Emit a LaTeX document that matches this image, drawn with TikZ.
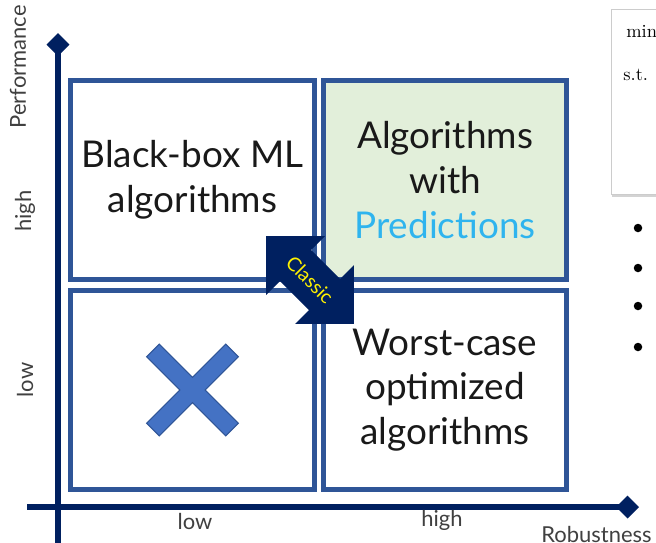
\documentclass[tikz,border=0pt]{standalone}
\usepackage{fontspec}
\setsansfont{Lato}
\usetikzlibrary{arrows.meta,positioning,shadows}
\definecolor{navy}{HTML}{002060}
\definecolor{frame}{HTML}{2F5597}
\definecolor{xblue}{HTML}{4472C4}
\definecolor{lgreen}{HTML}{E2EFDA}
\definecolor{sky}{HTML}{2FB4EE}
\definecolor{txt}{HTML}{404040}

\begin{document}
\begin{tikzpicture}[x=0.02cm, y=-0.02cm, font=\sffamily,
  quad/.style={draw=frame, line width=0.1cm, minimum width=4.88cm, minimum height=4.0cm,
    align=center, text=black!90, font=\sffamily\fontsize{21}{25.5}\selectfont},
  axis/.style={navy, line width=0.12cm, -{Diamond[length=0.46cm,width=0.46cm]}},
  lbl/.style={text=txt, inner sep=0pt, font=\sffamily\fontsize{12.5}{14}\selectfont}]
\useasboundingbox (0,0) rectangle (656,542);
\clip (0,0) rectangle (656,542);

% quadrants
\node[quad]              (tl) at (192.5,180) {Black-box ML\\algorithms};
\node[quad, fill=lgreen] (tr) at (445,180)   {Algorithms\\with\\\textcolor{sky}{Predictions}};
\node[quad]              (bl) at (192.5,390) {};
\node[quad]              (br) at (445,390)   {Worst-case\\optimized\\algorithms};

% cross in the empty quadrant
\begin{scope}[shift={(bl.center)}, rotate=45]
\draw[fill=xblue, draw=frame, line width=0.6pt]
  (-56,-9)--(-9,-9)--(-9,-56)--(9,-56)--(9,-9)--(56,-9)--(56,9)--(9,9)
  --(9,56)--(-9,56)--(-9,9)--(-56,9)--cycle;
\end{scope}

% axes
\coordinate (ybot) at (58,545);
\coordinate (ytop) at (58,33);
\coordinate (xl)   at (27,507);
\coordinate (xr)   at (639,507);
\draw[axis] (ybot) -- (ytop);
\draw[axis] (xl) -- (xr);

\node[lbl, rotate=90] (perf)  at (18,67)  {Performance};
\node[lbl, rotate=90] (yhigh) at (25,211) {high};
\node[lbl, rotate=90] (ylow)  at (25,380) {low};
\node[lbl]            (xlow)  at (195,521) {low};
\node[lbl]            (xhigh) at (442,520) {high};
\node[lbl, anchor=west] (rob) at (541,534) {Robustness};

% classic arrow
\coordinate (cc) at (310,280);
\begin{scope}[shift={(cc)}, rotate=-45]
\fill[navy] (-62,0)--(-20.5,-41.5)--(-20.5,-22)--(20.5,-22)--(20.5,-41.5)--(62,0)
  --(20.5,41.5)--(20.5,22)--(-20.5,22)--(-20.5,41.5)--cycle;
\end{scope}
\node[rotate=-45, text=yellow, inner sep=0pt, font=\sffamily\fontsize{11}{12}\selectfont] (cls) at (cc) {Classic};

% slide on the right
\node[draw=gray!40, fill=white, anchor=north west, minimum width=1.4cm, minimum height=3.7cm,
  drop shadow={opacity=0.35, shadow xshift=0.02cm, shadow yshift=-0.06cm}] (slide) at (611,9) {};
\node[anchor=west, inner sep=0pt, font=\rmfamily\fontsize{10.5}{11}\selectfont] (smin) at (626,31) {min};
\node[anchor=west, inner sep=0pt, font=\rmfamily\fontsize{10.5}{11}\selectfont] (sst)  at (623,75) {s.t. :};
\foreach \yy [count=\i] in {228,268,306,347}
  \node[circle, fill=black, inner sep=0pt, minimum size=0.17cm] (b\i) at (638,\yy) {};
\end{tikzpicture}
\end{document}
